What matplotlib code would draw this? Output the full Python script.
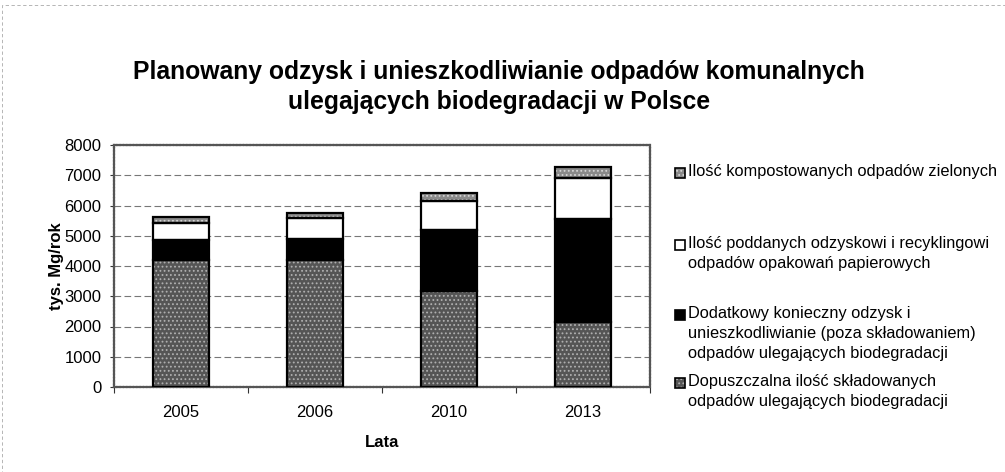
import numpy as np
import matplotlib
matplotlib.use("Agg")
import matplotlib.pyplot as plt
from matplotlib.patches import Rectangle

plt.rcParams['font.family'] = ['Liberation Sans', 'DejaVu Sans']

# dane (tys. Mg/rok)
lata = ["2005", "2006", "2010", "2013"]
skladowane = [4200, 4200, 3180, 2150]
dodatkowy_odzysk = [660, 690, 2010, 3400]
opakowania_papierowe = [570, 690, 970, 1350]
kompostowane = [180, 180, 240, 360]

etykiety = [
    "Ilość kompostowanych odpadów zielonych",
    "Ilość poddanych odzyskowi i recyklingowi\nodpadów opakowań papierowych",
    "Dodatkowy konieczny odzysk i\nunieszkodliwianie (poza składowaniem)\nodpadów ulegających biodegradacji",
    "Dopuszczalna ilość składowanych\nodpadów ulegających biodegradacji",
]

W, H = 1005, 472
fig = plt.figure(figsize=(W / 100, H / 100), dpi=100)
ax = fig.add_axes([114 / W, 1 - 387 / H, (650 - 114) / W, (387 - 145) / H])

x = np.arange(len(lata))
w = 0.42

# styl serii: (kolor wypełnienia, hatch, kolor hatch)
style = [
    ("#555555", "....", "#b0b0b0"),   # skladowane
    ("#000000", None, "#000000"),     # dodatkowy
    ("#ffffff", None, "#ffffff"),     # papier
    ("#8a8a8a", "....", "#d5d5d5"),   # kompost
]
serie = [skladowane, dodatkowy_odzysk, opakowania_papierowe, kompostowane]

plt.rcParams['hatch.linewidth'] = 0.8
bottom = np.zeros(len(lata))
for vals, (fc, hatch, hc) in zip(serie, style):
    vals = np.array(vals, dtype=float)
    ax.bar(x, vals, w, bottom=bottom, color=fc, hatch=hatch,
           edgecolor=hc, linewidth=0, zorder=3)
    ax.bar(x, vals, w, bottom=bottom, fill=False,
           edgecolor="black", linewidth=1.6, zorder=4)
    bottom += vals

ax.set_xlim(-0.5, 3.5)
ax.set_ylim(0, 8000)
ax.set_yticks(np.arange(0, 8001, 1000))
ax.tick_params(axis="y", labelsize=12, length=3, pad=6, color="#333333")

# znaczniki osi X na granicach kategorii, etykiety w środkach
ax.set_xticks(np.arange(-0.5, 3.6, 1.0))
ax.set_xticklabels([])
ax.set_xticks(x, minor=True)
ax.set_xticklabels(lata, minor=True, fontsize=12)
ax.tick_params(axis="x", which="major", length=4, color="#333333")
ax.tick_params(axis="x", which="minor", length=0, pad=13)

ax.yaxis.grid(True, color="#777777", linestyle=(0, (6, 3)), linewidth=0.8, zorder=0)
ax.set_axisbelow(True)
for s in ax.spines.values():
    s.set_color("#555555")
    s.set_linewidth(1.6)
    s.set_linestyle((0, (1, 0.5)))

ax.set_ylabel("tys. Mg/rok", fontsize=12, fontweight="bold", labelpad=0.5)
ax.set_xlabel("Lata", fontsize=12, fontweight="bold", labelpad=11)

fig.text(499 / W, 1 - 87 / H,
         "Planowany odzysk i unieszkodliwianie odpadów komunalnych\nulegających biodegradacji w Polsce",
         ha="center", va="center", fontsize=17.8, fontweight="bold", linespacing=1.35)

# legenda (ręcznie rozmieszczona jak w oryginale)
leg_colors = [style[3], style[2], style[1], style[0]]
leg_y = [173, 245, 315, 383]   # środek pierwszej linii, piksele od góry
for (fc, hatch, hc), lab, yy in zip(leg_colors, etykiety, leg_y):
    yf = 1 - yy / H
    sq = Rectangle((675 / W, yf - 5 / H), 10 / W, 10 / H,
                   transform=fig.transFigure, facecolor=fc, hatch=hatch,
                   edgecolor=hc, linewidth=0)
    fig.patches.append(sq)
    fig.patches.append(Rectangle((675 / W, yf - 5 / H), 10 / W, 10 / H,
                                 transform=fig.transFigure, fill=False,
                                 edgecolor="black", linewidth=1.2))
    fig.text(688 / W, yf + 9 / H, lab, ha="left", va="top",
             fontsize=11.8, linespacing=1.4)

# ramka skanu
fig.patches.append(Rectangle((0.002, -0.01), 1.2, 1.0, transform=fig.transFigure,
                             fill=False, edgecolor="#aaaaaa", linewidth=0.6,
                             linestyle=(0, (4, 3))))

fig.savefig("out.png", dpi=100)
